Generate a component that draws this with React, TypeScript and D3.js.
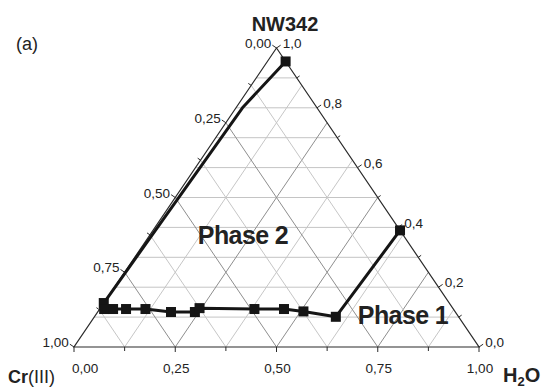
import React from "react";
import * as d3 from "d3";

// Phase boundary compositions (mass fractions), in drawing order.
// `measured` marks the compositions drawn with a symbol; the other vertex only shapes the curve.
const crFraction = [0.0, 0.184, 0.853, 0.862, 0.84, 0.808, 0.76, 0.702, 0.643, 0.625, 0.491, 0.418, 0.374, 0.303, 0.0];
const h2oFraction = [0.045, 0.016, 0.0, 0.011, 0.033, 0.065, 0.113, 0.181, 0.24, 0.245, 0.382, 0.455, 0.507, 0.596, 0.61];
const nwFraction = [0.955, 0.8, 0.147, 0.127, 0.127, 0.127, 0.127, 0.117, 0.117, 0.13, 0.127, 0.127, 0.119, 0.101, 0.39];
const measured = [true, false, true, true, true, true, true, true, true, true, true, true, true, true, true];

// Axis ticks
const bottomTicks = [0, 0.125, 0.25, 0.375, 0.5, 0.625, 0.75, 0.875, 1];
const bottomLabels = ["0,00", "", "0,25", "", "0,50", "", "0,75", "", "1,00"];
const leftTicks = [0, 0.125, 0.25, 0.375, 0.5, 0.625, 0.75, 0.875, 1];
const leftLabels = ["0,00", "", "0,25", "", "0,50", "", "0,75", "", "1,00"];
const rightTicks = [0, 0.1, 0.2, 0.3, 0.4, 0.5, 0.6, 0.7, 0.8, 0.9, 1];
const rightLabels = ["0,0", "", "0,2", "", "0,4", "", "0,6", "", "0,8", "", "1,0"];

// Grid
const horizontalGrid = [0.1, 0.2, 0.3, 0.4, 0.5, 0.6, 0.7, 0.8, 0.9];
const slantGrid = [0.125, 0.25, 0.375, 0.5, 0.625, 0.75, 0.875];

const FONT = 'Arial, "Liberation Sans", sans-serif';

const W = 547;
const H = 388;

// x along the base (H2O fraction + half NW342), y from the NW342 fraction
const xBase = d3.scaleLinear().domain([0, 1]).range([74, 479]);
const yScale = d3.scaleLinear().domain([0, 1]).range([347, 48]);

const project = (h2o: number, nw: number): [number, number] => [xBase(h2o + nw / 2), yScale(nw)];

const edgeDx = xBase(0.5) - xBase(0);
const edgeDy = yScale(1) - yScale(0);
const edgeLen = Math.hypot(edgeDx, edgeDy);
const leftNormal: [number, number] = [edgeDy / edgeLen, -edgeDx / edgeLen];
const rightNormal: [number, number] = [-edgeDy / edgeLen, -edgeDx / edgeLen];

const isMajor = (v: number) => Math.abs(v * 4 - Math.round(v * 4)) < 1e-6;

export default function App() {
  const line = d3.line<[number, number]>();
  const pts: [number, number][] = crFraction.map((_, i) => project(h2oFraction[i], nwFraction[i]));

  const A = project(0, 1);
  const L = project(0, 0);
  const R = project(1, 0);

  const gridH = horizontalGrid.map((n) => [project(0, n), project(1 - n, n)] as [number, number][]);
  const gridWater = slantGrid.map((h) => ({ major: isMajor(h), seg: [project(h, 0), project(h, 1 - h)] as [number, number][] }));
  const gridCr = slantGrid.map((c) => ({ major: isMajor(c), seg: [project(1 - c, 0), project(0, 1 - c)] as [number, number][] }));

  const mk = 10;

  return (
    <svg width={W} height={H} style={{ position: "absolute", left: 0, top: 0, background: "#fff" }}>
      <g fill="none">
        {gridH.map((s, i) => (
          <path key={"gh" + i} d={line(s) || ""} stroke="#c4c4c4" strokeWidth={1} />
        ))}
        {[...gridWater, ...gridCr].map((g, i) => (
          <path key={"gs" + i} d={line(g.seg) || ""} stroke={g.major ? "#8e8e8e" : "#c6c6c6"} strokeWidth={1} />
        ))}
      </g>
      <path d={line([L, R, A, L]) + "Z"} stroke="#2a2a2a" strokeWidth={1.2} fill="none" strokeLinejoin="miter" />

      {/* bottom axis: H2O */}
      {bottomTicks.map((t, i) => {
        const [x, y] = project(t, 0);
        const len = bottomLabels[i] ? 5 : 4;
        return (
          <g key={"bt" + i}>
            <line x1={x} y1={y} x2={x} y2={y + len} stroke="#2a2a2a" strokeWidth={1} />
            {bottomLabels[i] && (
              <text
                x={i === 0 ? x - 2 : x + 1}
                y={y + 26}
                textAnchor={i === 0 ? "start" : "middle"}
                fontFamily={FONT}
                fontSize={13.5}
                fill="#222"
              >
                {bottomLabels[i]}
              </text>
            )}
          </g>
        );
      })}

      {/* left axis: Cr(III) */}
      {leftTicks.map((t, i) => {
        const [x, y] = project(0, 1 - t);
        const len = leftLabels[i] ? 5 : 3.5;
        const ex = x + leftNormal[0] * len;
        const ey = y + leftNormal[1] * len;
        return (
          <g key={"lt" + i}>
            <line x1={x} y1={y} x2={ex} y2={ey} stroke="#2a2a2a" strokeWidth={1} />
            {leftLabels[i] && (
              <text x={ex - 1} y={ey + 3} textAnchor="end" fontFamily={FONT} fontSize={13.5} fill="#222">
                {leftLabels[i]}
              </text>
            )}
          </g>
        );
      })}

      {/* right axis: NW342 */}
      {rightTicks.map((t, i) => {
        const [x, y] = project(1 - t, t);
        const len = rightLabels[i] ? 5 : 3.5;
        const ex = x + rightNormal[0] * len;
        const ey = y + rightNormal[1] * len;
        return (
          <g key={"rt" + i}>
            <line x1={x} y1={y} x2={ex} y2={ey} stroke="#2a2a2a" strokeWidth={1} />
            {rightLabels[i] && (
              <text x={ex + 2} y={ey + 3} textAnchor="start" fontFamily={FONT} fontSize={13.5} fill="#222">
                {rightLabels[i]}
              </text>
            )}
          </g>
        );
      })}

      {/* phase boundary */}
      <path d={line(pts) || ""} stroke="#151515" strokeWidth={3} fill="none" strokeLinejoin="round" />
      {pts.map(([x, y], i) =>
        measured[i] ? <rect key={"m" + i} x={x - mk / 2} y={y - mk / 2} width={mk} height={mk} fill="#151515" /> : null
      )}

      <text x={243} y={244} fontFamily={FONT} fontSize={25} fontWeight="bold" letterSpacing={-0.6} textAnchor="middle" fill="#222">
        Phase 2
      </text>
      <text x={403} y={324} fontFamily={FONT} fontSize={25} fontWeight="bold" letterSpacing={-0.6} textAnchor="middle" fill="#222">
        Phase 1
      </text>

      <text x={285} y={31} fontFamily={FONT} fontSize={20} fontWeight="bold" textAnchor="middle" fill="#222">
        NW342
      </text>
      <text x={16} y={50} fontFamily={FONT} fontSize={18} fill="#222">
        (a)
      </text>
      <text x={8} y={383} fontFamily={FONT} fontSize={18} fill="#222">
        <tspan fontWeight="bold">Cr</tspan>
        <tspan>(III)</tspan>
      </text>
      <text x={503} y={382} fontFamily={FONT} fontSize={20} fontWeight="bold" fill="#222">
        H
        <tspan fontSize={13} dy={4}>2</tspan>
        <tspan dy={-4}>O</tspan>
      </text>
    </svg>
  );
}
